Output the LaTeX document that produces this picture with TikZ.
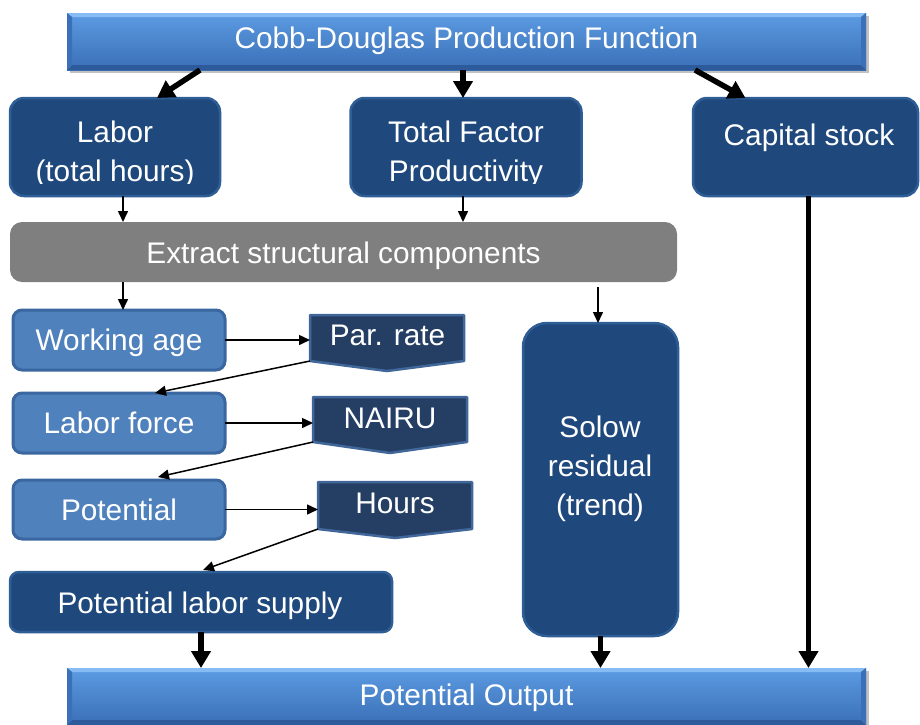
\documentclass[tikz,border=0pt]{standalone}
\usepackage{fontspec}
\setmainfont{Liberation Sans}
\usetikzlibrary{arrows.meta,shadows}

\definecolor{barTop}{HTML}{5C9BE2}
\definecolor{barBot}{HTML}{3A6FB6}
\definecolor{barHi}{HTML}{86BCF3}
\definecolor{barLo}{HTML}{2C5A9A}
\definecolor{barSide}{HTML}{3B70B8}
\definecolor{navy}{HTML}{1F497D}
\definecolor{navyEdge}{HTML}{2F5D95}
\definecolor{steel}{HTML}{4F81BD}
\definecolor{steelEdge}{HTML}{3A679F}
\definecolor{chev}{HTML}{253F64}
\definecolor{chevEdge}{HTML}{41679A}
\definecolor{slate}{HTML}{7F7F7F}

\tikzset{
  every node/.style={inner sep=0pt, outer sep=0pt},
  bevel/.style={path picture={
      \coordinate (bnw) at (path picture bounding box.north west);
      \coordinate (bne) at (path picture bounding box.north east);
      \coordinate (bsw) at (path picture bounding box.south west);
      \coordinate (bse) at (path picture bounding box.south east);
      \fill[barHi] (bnw) -- (bne) -- ([xshift=-5pt,yshift=-4pt]bne) -- ([xshift=5pt,yshift=-4pt]bnw) -- cycle;
      \fill[barLo] (bsw) -- (bse) -- ([xshift=-5pt,yshift=5pt]bse) -- ([xshift=5pt,yshift=5pt]bsw) -- cycle;
      \fill[barSide] (bnw) -- ([xshift=5pt,yshift=-4pt]bnw) -- ([xshift=5pt,yshift=5pt]bsw) -- (bsw) -- cycle;
      \fill[barSide] (bne) -- ([xshift=-5pt,yshift=-4pt]bne) -- ([xshift=-5pt,yshift=5pt]bse) -- (bse) -- cycle;
  }},
  bar/.style={rectangle, top color=barTop, bottom color=barBot, bevel,
    drop shadow={shadow xshift=2.5pt, shadow yshift=-2.5pt, opacity=.35, fill=black!70}},
  darkbox/.style={rectangle, rounded corners=14pt, fill=navy, draw=navyEdge, line width=2.5pt},
  tallbox/.style={darkbox, rounded corners=24pt},
  flatbox/.style={darkbox, rounded corners=9pt},
  lightbox/.style={rectangle, rounded corners=9pt, fill=steel, draw=steelEdge, line width=3pt},
  greybox/.style={rectangle, rounded corners=12pt, fill=slate},
  tagframe/.style={rectangle},
  tagshape/.style={fill=chev, draw=chevEdge, line width=2.5pt, line join=round},
  lbl/.style={anchor=base, text=white, font=\fontsize{29.8}{39}\selectfont},
  flow/.style={-{Triangle[length=11pt,width=10pt]}, line width=1.5pt},
  feed/.style={-{Triangle[length=17pt,width=19pt]}, line width=5.5pt},
}

\begin{document}
\begin{tikzpicture}[x=1pt, y=-1pt]
\useasboundingbox (0,0) rectangle (920,724);

% ---- top and bottom bars
\node[bar, minimum width=799pt, minimum height=57pt] (top) at (466.5,41.5) {};
\node[lbl] (toptext) at (466.5,48) {Cobb-Douglas Production Function};

\node[bar, minimum width=799pt, minimum height=57pt] (output) at (466.5,696.5) {};
\node[lbl] (outputtext) at (466.5,705) {Potential Output};

% ---- production factors
\node[darkbox, minimum width=210pt, minimum height=98pt] (labor) at (115,147) {};
\begin{scope}
  \clip ([yshift=2pt]labor.north west) rectangle ([yshift=13pt]labor.south east);
  \node[lbl] (labortext) at (115,142) {\begin{tabular}[t]{@{}c@{}}Labor\\(total hours)\end{tabular}};
\end{scope}

\node[darkbox, minimum width=231pt, minimum height=98pt] (tfp) at (466,147) {};
\begin{scope}
  \clip ([yshift=2pt]tfp.north west) rectangle ([yshift=13pt]tfp.south east);
  \node[lbl] (tfptext) at (466,142) {\begin{tabular}[t]{@{}c@{}}Total Factor\\Productivity\end{tabular}};
\end{scope}

\node[darkbox, minimum width=225pt, minimum height=98pt] (capital) at (805.5,147) {};
\node[lbl] (capitaltext) at (809,145) {Capital stock};

% ---- structural components
\node[greybox, minimum width=667pt, minimum height=60pt] (gray) at (343.5,252) {};
\node[lbl] (graytext) at (343.5,263) {Extract structural components};

\node[lightbox, minimum width=212pt, minimum height=60pt] (work) at (119,340) {};
\node[lbl] (worktext) at (119,350) {Working age};

\node[lightbox, minimum width=212pt, minimum height=60pt] (lforce) at (119,423) {};
\node[lbl] (lforcetext) at (119,433) {Labor force};

\node[lightbox, minimum width=212pt, minimum height=59pt] (pot) at (119,509.5) {};
\node[lbl] (pottext) at (119,520) {Potential};

\node[flatbox, minimum width=382pt, minimum height=60pt] (pls) at (201,602) {};
\node[lbl] (plstext) at (200,613) {Potential labor supply};

% ---- rate tags
\node[tagframe, minimum width=154pt, minimum height=46pt] (par) at (387,338) {};
\draw[tagshape] (par.north west) -- (par.north east) -- (par.south east)
  -- ([yshift=-10pt]par.south) -- (par.south west) -- cycle;
\node[lbl] (partext) at (387.5,345) {Par. rate};

\node[tagframe, minimum width=154pt, minimum height=45pt] (nairu) at (390,419.5) {};
\draw[tagshape] (nairu.north west) -- (nairu.north east) -- (nairu.south east)
  -- ([yshift=-11pt]nairu.south) -- (nairu.south west) -- cycle;
\node[lbl] (nairutext) at (390,428) {NAIRU};

\node[tagframe, minimum width=154pt, minimum height=47pt] (hours) at (395,505.5) {};
\draw[tagshape] (hours.north west) -- (hours.north east) -- (hours.south east)
  -- ([yshift=-9pt]hours.south) -- (hours.south west) -- cycle;
\node[lbl] (hourstext) at (395,513) {Hours};

% ---- Solow residual
\node[tallbox, minimum width=155pt, minimum height=313pt] (solow) at (600.5,479.5) {};
\node[lbl] (solowtext) at (600,437) {\begin{tabular}[t]{@{}c@{}}Solow\\residual\\(trend)\end{tabular}};

% ---- connectors from the production function
\draw[feed] ([xshift=133pt]top.south west) -- ([xshift=42pt]labor.north);
\draw[feed] (top.south -| tfp.north) ++(-3,0) -- ([xshift=-3pt]tfp.north);
\draw[feed] ([xshift=628pt]top.south west) -- ([xshift=-60pt]capital.north);

% ---- thin flow arrows
\coordinate (lb) at ([xshift=8pt]labor.south);
\draw[flow] (lb) -- (lb |- gray.north);
\coordinate (tb) at ([xshift=-3pt]tfp.south);
\draw[flow] (tb) -- (tb |- gray.north);
\coordinate (gb) at ([xshift=113pt]gray.south west);
\draw[flow] (gb) -- (gb |- work.north);
\coordinate (gs) at ([xshift=-79pt,yshift=-5pt]gray.south east);
\draw[flow] (gs) -- (gs |- solow.north);

\draw[flow] (work.east) -- (work.east -| par.west);
\draw[flow] (par.south west) -- ([xshift=36pt]lforce.north);
\draw[flow] (lforce.east) -- (lforce.east -| nairu.west);
\draw[flow] (nairu.south west) -- ([xshift=39pt,yshift=3pt]pot.north);
\draw[flow] (pot.east) -- (pot.east -| hours.west);
\draw[flow] (hours.south west) -- ([xshift=2pt,yshift=2pt]pls.north);

% ---- into potential output
\draw[feed] (pls.south) -- (pls.south |- output.north);
\draw[feed] (solow.south) -- (solow.south |- output.north);
\coordinate (cb) at ([xshift=3pt]capital.south);
\draw[feed] (cb) -- (cb |- output.north);

\end{tikzpicture}
\end{document}
